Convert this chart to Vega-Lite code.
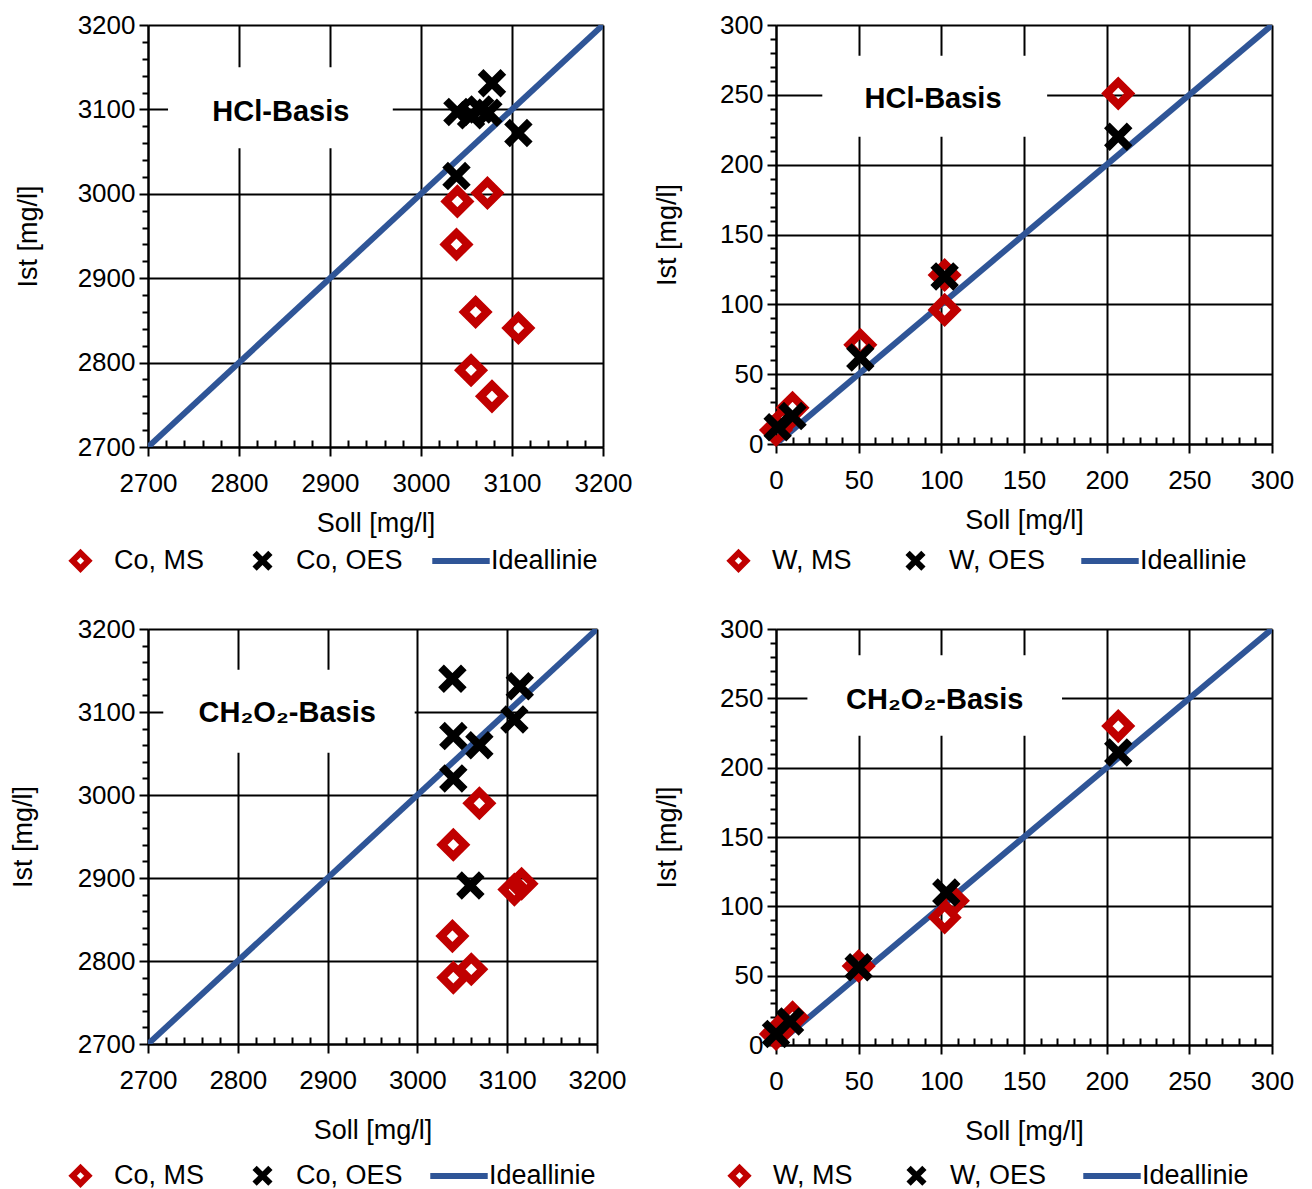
{
  "$schema": "https://vega.github.io/schema/vega-lite/v6.json",
  "padding": {"left": 9, "top": 12, "right": 0, "bottom": 0},
  "background": "white",
  "spacing": 35,
  "config": {
    "font": "Liberation Sans",
    "view": {"stroke": null},
    "axis": {"domainColor": "black", "domainWidth": 2, "tickColor": "black", "tickWidth": 2, "gridWidth": 2, "labelFontSize": 26, "labelColor": "black", "titleFontSize": 27, "titleFontWeight": "normal", "titleColor": "black", "labelFont": "Liberation Sans", "titleFont": "Liberation Sans", "grid": true, "labelOverlap": false, "tickCount": 100, "format": "d", "labelBound": false, "labelFlush": false},
    "legend": {"labelFontSize": 27, "labelFont": "Liberation Sans", "labelColor": "black", "symbolStrokeWidth": 6, "symbolSize": 250, "labelLimit": 300}
  },
  "datasets": {
    "co_hcl": [
      {"Soll": 3040, "Ist": 2991, "Serie": "Co, MS"},
      {"Soll": 3073, "Ist": 3001, "Serie": "Co, MS"},
      {"Soll": 3039, "Ist": 2940, "Serie": "Co, MS"},
      {"Soll": 3060, "Ist": 2860, "Serie": "Co, MS"},
      {"Soll": 3107, "Ist": 2841, "Serie": "Co, MS"},
      {"Soll": 3055, "Ist": 2791, "Serie": "Co, MS"},
      {"Soll": 3078, "Ist": 2760, "Serie": "Co, MS"},
      {"Soll": 3039, "Ist": 3021, "Serie": "Co, OES"},
      {"Soll": 3040, "Ist": 3097, "Serie": "Co, OES"},
      {"Soll": 3055, "Ist": 3093, "Serie": "Co, OES"},
      {"Soll": 3065, "Ist": 3100, "Serie": "Co, OES"},
      {"Soll": 3074, "Ist": 3096, "Serie": "Co, OES"},
      {"Soll": 3078, "Ist": 3131, "Serie": "Co, OES"},
      {"Soll": 3107, "Ist": 3072, "Serie": "Co, OES"}
    ],
    "w_hcl": [
      {"Soll": 0, "Ist": 10, "Serie": "W, MS"},
      {"Soll": 5, "Ist": 17, "Serie": "W, MS"},
      {"Soll": 10, "Ist": 26, "Serie": "W, MS"},
      {"Soll": 51, "Ist": 71, "Serie": "W, MS"},
      {"Soll": 102, "Ist": 121, "Serie": "W, MS"},
      {"Soll": 102, "Ist": 96, "Serie": "W, MS"},
      {"Soll": 207, "Ist": 251, "Serie": "W, MS"},
      {"Soll": 1, "Ist": 12, "Serie": "W, OES"},
      {"Soll": 10, "Ist": 20, "Serie": "W, OES"},
      {"Soll": 51, "Ist": 62, "Serie": "W, OES"},
      {"Soll": 102, "Ist": 120, "Serie": "W, OES"},
      {"Soll": 207, "Ist": 220, "Serie": "W, OES"}
    ],
    "co_ch": [
      {"Soll": 3069, "Ist": 2990, "Serie": "Co, MS"},
      {"Soll": 3040, "Ist": 2940, "Serie": "Co, MS"},
      {"Soll": 3108, "Ist": 2886, "Serie": "Co, MS"},
      {"Soll": 3116, "Ist": 2893, "Serie": "Co, MS"},
      {"Soll": 3039, "Ist": 2830, "Serie": "Co, MS"},
      {"Soll": 3040, "Ist": 2780, "Serie": "Co, MS"},
      {"Soll": 3060, "Ist": 2790, "Serie": "Co, MS"},
      {"Soll": 3039, "Ist": 3140, "Serie": "Co, OES"},
      {"Soll": 3114, "Ist": 3131, "Serie": "Co, OES"},
      {"Soll": 3108, "Ist": 3091, "Serie": "Co, OES"},
      {"Soll": 3040, "Ist": 3071, "Serie": "Co, OES"},
      {"Soll": 3069, "Ist": 3060, "Serie": "Co, OES"},
      {"Soll": 3040, "Ist": 3020, "Serie": "Co, OES"},
      {"Soll": 3059, "Ist": 2891, "Serie": "Co, OES"}
    ],
    "w_ch": [
      {"Soll": 0, "Ist": 8, "Serie": "W, MS"},
      {"Soll": 10, "Ist": 20, "Serie": "W, MS"},
      {"Soll": 50, "Ist": 57, "Serie": "W, MS"},
      {"Soll": 102, "Ist": 92, "Serie": "W, MS"},
      {"Soll": 107, "Ist": 104, "Serie": "W, MS"},
      {"Soll": 207, "Ist": 230, "Serie": "W, MS"},
      {"Soll": 0, "Ist": 8, "Serie": "W, OES"},
      {"Soll": 8.5, "Ist": 17, "Serie": "W, OES"},
      {"Soll": 50, "Ist": 56, "Serie": "W, OES"},
      {"Soll": 103, "Ist": 110, "Serie": "W, OES"},
      {"Soll": 207, "Ist": 211, "Serie": "W, OES"}
    ],
    "ideal_co": [{"Soll": 2700, "Ist": 2700, "Linie": "Ideallinie"}, {"Soll": 3200, "Ist": 3200, "Linie": "Ideallinie"}],
    "ideal_w": [{"Soll": 0, "Ist": 0, "Linie": "Ideallinie"}, {"Soll": 300, "Ist": 300, "Linie": "Ideallinie"}]
  },
  "resolve": {"scale": {"color": "independent", "shape": "independent", "stroke": "independent", "x": "independent", "y": "independent"}, "legend": {"color": "independent", "shape": "independent", "stroke": "independent"}},
  "vconcat": [
    {
      "spacing": 21,
      "resolve": {"scale": {"color": "independent", "shape": "independent", "stroke": "independent", "x": "independent", "y": "independent"}, "legend": {"color": "independent", "shape": "independent", "stroke": "independent"}},
      "hconcat": [
        {
          "width": 455, "height": 422,
          "layer": [
            {
              "data": {"values": [{}]},
              "mark": {"type": "rect", "fill": "white"},
              "encoding": {
                "x": {"datum": 2722, "type": "quantitative", "scale": {"domain": [2700, 3200], "nice": false, "zero": false}},
                "x2": {"datum": 2969},
                "y": {"datum": 3150, "type": "quantitative", "scale": {"domain": [2700, 3200], "nice": false, "zero": false}},
                "y2": {"datum": 3054}
              }
            },
            {
              "data": {"values": [{}]},
              "mark": {"type": "text", "text": "HCl-Basis", "font": "Liberation Sans", "fontSize": 29, "fontWeight": "bold", "color": "black", "align": "center", "baseline": "middle"},
              "encoding": {
                "x": {"datum": 2846, "type": "quantitative"},
                "y": {"datum": 3097, "type": "quantitative"}
              }
            },
            {
              "data": {"name": "ideal_co"},
              "mark": {"type": "line", "strokeWidth": 6, "clip": true},
              "encoding": {
                "x": {"field": "Soll", "type": "quantitative", "title": "Soll [mg/l]", "scale": {"domain": [2700, 3200], "nice": false, "zero": false},
                  "axis": {"values": [2700,2720,2740,2760,2780,2800,2820,2840,2860,2880,2900,2920,2940,2960,2980,3000,3020,3040,3060,3080,3100,3120,3140,3160,3180,3200], "labelExpr": "datum.value % 100 === 0 ? datum.label : ''", "gridColor": {"condition": {"test": "datum.value % 100 === 0", "value": "black"}, "value": "transparent"}, "tickSize": {"condition": {"test": "datum.value % 100 === 0", "value": 9}, "value": -7}, "labelPadding": 14, "titlePadding": 14}},
                "y": {"field": "Ist", "type": "quantitative", "title": "Ist [mg/l]", "scale": {"domain": [2700, 3200], "nice": false, "zero": false},
                  "axis": {"values": [2700,2720,2740,2760,2780,2800,2820,2840,2860,2880,2900,2920,2940,2960,2980,3000,3020,3040,3060,3080,3100,3120,3140,3160,3180,3200], "labelExpr": "datum.value % 100 === 0 ? datum.label : ''", "gridColor": {"condition": {"test": "datum.value % 100 === 0", "value": "black"}, "value": "transparent"}, "tickSize": {"condition": {"test": "datum.value % 100 === 0", "value": 9}, "value": 6}, "labelPadding": 4, "titlePadding": 35}},
                "stroke": {"field": "Linie", "type": "nominal", "scale": {"domain": ["Ideallinie"], "range": ["#2F5597"]},
                  "legend": {"orient": "none", "legendX": 281, "legendY": 504, "title": null, "symbolType": "stroke", "symbolSize": 3300, "symbolStrokeWidth": 6, "labelOffset": -2}}
              }
            },
            {
              "data": {"name": "co_hcl"},
              "mark": {"type": "point", "filled": false, "strokeWidth": 8, "size": 520, "opacity": 1},
              "encoding": {
                "x": {"field": "Soll", "type": "quantitative", "title": "Soll [mg/l]"},
                "y": {"field": "Ist", "type": "quantitative", "title": "Ist [mg/l]"},
                "color": {"field": "Serie", "type": "nominal", "scale": {"domain": ["Co, MS", "Co, OES"], "range": ["#C00000", "black"]},
                  "legend": {"orient": "none", "legendX": -81, "legendY": 522, "direction": "horizontal", "title": null, "columnPadding": 37, "labelOffset": 20}},
                "shape": {"field": "Serie", "type": "nominal", "scale": {"domain": ["Co, MS", "Co, OES"], "range": ["diamond", "M-1,-1L1,1M-1,1L1,-1"]},
                  "legend": {"orient": "none", "legendX": -81, "legendY": 522, "direction": "horizontal", "title": null, "columnPadding": 37, "labelOffset": 20}}
              }
            }
          ]
        },
        {
          "width": 496, "height": 419,
          "layer": [
            {
              "data": {"values": [{}]},
              "mark": {"type": "rect", "fill": "white"},
              "encoding": {
                "x": {"datum": 28, "type": "quantitative", "scale": {"domain": [0, 300], "nice": false}},
                "x2": {"datum": 164},
                "y": {"datum": 278, "type": "quantitative", "scale": {"domain": [0, 300], "nice": false}},
                "y2": {"datum": 220}
              }
            },
            {
              "data": {"values": [{}]},
              "mark": {"type": "text", "text": "HCl-Basis", "font": "Liberation Sans", "fontSize": 29, "fontWeight": "bold", "color": "black", "align": "center", "baseline": "middle"},
              "encoding": {
                "x": {"datum": 95, "type": "quantitative"},
                "y": {"datum": 247, "type": "quantitative"}
              }
            },
            {
              "data": {"name": "ideal_w"},
              "mark": {"type": "line", "strokeWidth": 6, "clip": true},
              "encoding": {
                "x": {"field": "Soll", "type": "quantitative", "title": "Soll [mg/l]", "scale": {"domain": [0, 300], "nice": false},
                  "axis": {"values": [0,10,20,30,40,50,60,70,80,90,100,110,120,130,140,150,160,170,180,190,200,210,220,230,240,250,260,270,280,290,300], "labelExpr": "datum.value % 50 === 0 ? datum.label : ''", "gridColor": {"condition": {"test": "datum.value % 50 === 0", "value": "black"}, "value": "transparent"}, "tickSize": {"condition": {"test": "datum.value % 50 === 0", "value": 9}, "value": -7}, "labelPadding": 14, "titlePadding": 14}},
                "y": {"field": "Ist", "type": "quantitative", "title": "Ist [mg/l]", "scale": {"domain": [0, 300], "nice": false},
                  "axis": {"values": [0,10,20,30,40,50,60,70,80,90,100,110,120,130,140,150,160,170,180,190,200,210,220,230,240,250,260,270,280,290,300], "labelExpr": "datum.value % 50 === 0 ? datum.label : ''", "gridColor": {"condition": {"test": "datum.value % 50 === 0", "value": "black"}, "value": "transparent"}, "tickSize": {"condition": {"test": "datum.value % 50 === 0", "value": 9}, "value": 6}, "labelPadding": 4, "titlePadding": 38}},
                "stroke": {"field": "Linie", "type": "nominal", "scale": {"domain": ["Ideallinie"], "range": ["#2F5597"]},
                  "legend": {"orient": "none", "legendX": 302, "legendY": 504, "title": null, "symbolType": "stroke", "symbolSize": 3300, "symbolStrokeWidth": 6, "labelOffset": -2}}
              }
            },
            {
              "data": {"name": "w_hcl"},
              "mark": {"type": "point", "filled": false, "strokeWidth": 8, "size": 520, "opacity": 1},
              "encoding": {
                "x": {"field": "Soll", "type": "quantitative", "title": "Soll [mg/l]"},
                "y": {"field": "Ist", "type": "quantitative", "title": "Ist [mg/l]"},
                "color": {"field": "Serie", "type": "nominal", "scale": {"domain": ["W, MS", "W, OES"], "range": ["#C00000", "black"]},
                  "legend": {"orient": "none", "legendX": -51, "legendY": 522, "direction": "horizontal", "title": null, "columnPadding": 43, "labelOffset": 20}},
                "shape": {"field": "Serie", "type": "nominal", "scale": {"domain": ["W, MS", "W, OES"], "range": ["diamond", "M-1,-1L1,1M-1,1L1,-1"]},
                  "legend": {"orient": "none", "legendX": -51, "legendY": 522, "direction": "horizontal", "title": null, "columnPadding": 43, "labelOffset": 20}}
              }
            }
          ]
        }
      ]
    },
    {
      "spacing": 27,
      "resolve": {"scale": {"color": "independent", "shape": "independent", "stroke": "independent", "x": "independent", "y": "independent"}, "legend": {"color": "independent", "shape": "independent", "stroke": "independent"}},
      "hconcat": [
        {
          "width": 449, "height": 415,
          "layer": [
            {
              "data": {"values": [{}]},
              "mark": {"type": "rect", "fill": "white"},
              "encoding": {
                "x": {"datum": 2717, "type": "quantitative", "scale": {"domain": [2700, 3200], "nice": false, "zero": false}},
                "x2": {"datum": 2997},
                "y": {"datum": 3151, "type": "quantitative", "scale": {"domain": [2700, 3200], "nice": false, "zero": false}},
                "y2": {"datum": 3051}
              }
            },
            {
              "data": {"values": [{}]},
              "mark": {"type": "text", "text": "CH₂O₂-Basis", "font": "Liberation Sans", "fontSize": 29, "fontWeight": "bold", "color": "black", "align": "center", "baseline": "middle"},
              "encoding": {
                "x": {"datum": 2855, "type": "quantitative"},
                "y": {"datum": 3099, "type": "quantitative"}
              }
            },
            {
              "data": {"name": "ideal_co"},
              "mark": {"type": "line", "strokeWidth": 6, "clip": true},
              "encoding": {
                "x": {"field": "Soll", "type": "quantitative", "title": "Soll [mg/l]", "scale": {"domain": [2700, 3200], "nice": false, "zero": false},
                  "axis": {"values": [2700,2720,2740,2760,2780,2800,2820,2840,2860,2880,2900,2920,2940,2960,2980,3000,3020,3040,3060,3080,3100,3120,3140,3160,3180,3200], "labelExpr": "datum.value % 100 === 0 ? datum.label : ''", "gridColor": {"condition": {"test": "datum.value % 100 === 0", "value": "black"}, "value": "transparent"}, "tickSize": {"condition": {"test": "datum.value % 100 === 0", "value": 9}, "value": -7}, "labelPadding": 14, "titlePadding": 24}},
                "y": {"field": "Ist", "type": "quantitative", "title": "Ist [mg/l]", "scale": {"domain": [2700, 3200], "nice": false, "zero": false},
                  "axis": {"values": [2700,2720,2740,2760,2780,2800,2820,2840,2860,2880,2900,2920,2940,2960,2980,3000,3020,3040,3060,3080,3100,3120,3140,3160,3180,3200], "labelExpr": "datum.value % 100 === 0 ? datum.label : ''", "gridColor": {"condition": {"test": "datum.value % 100 === 0", "value": "black"}, "value": "transparent"}, "tickSize": {"condition": {"test": "datum.value % 100 === 0", "value": 9}, "value": 6}, "labelPadding": 4, "titlePadding": 40}},
                "stroke": {"field": "Linie", "type": "nominal", "scale": {"domain": ["Ideallinie"], "range": ["#2F5597"]},
                  "legend": {"orient": "none", "legendX": 279, "legendY": 515, "title": null, "symbolType": "stroke", "symbolSize": 3300, "symbolStrokeWidth": 6, "labelOffset": -2}}
              }
            },
            {
              "data": {"name": "co_ch"},
              "mark": {"type": "point", "filled": false, "strokeWidth": 8, "size": 520, "opacity": 1},
              "encoding": {
                "x": {"field": "Soll", "type": "quantitative", "title": "Soll [mg/l]"},
                "y": {"field": "Ist", "type": "quantitative", "title": "Ist [mg/l]"},
                "color": {"field": "Serie", "type": "nominal", "scale": {"domain": ["Co, MS", "Co, OES"], "range": ["#C00000", "black"]},
                  "legend": {"orient": "none", "legendX": -81, "legendY": 533, "direction": "horizontal", "title": null, "columnPadding": 37, "labelOffset": 20}},
                "shape": {"field": "Serie", "type": "nominal", "scale": {"domain": ["Co, MS", "Co, OES"], "range": ["diamond", "M-1,-1L1,1M-1,1L1,-1"]},
                  "legend": {"orient": "none", "legendX": -81, "legendY": 533, "direction": "horizontal", "title": null, "columnPadding": 37, "labelOffset": 20}}
              }
            }
          ]
        },
        {
          "width": 496, "height": 416,
          "layer": [
            {
              "data": {"values": [{}]},
              "mark": {"type": "rect", "fill": "white"},
              "encoding": {
                "x": {"datum": 19, "type": "quantitative", "scale": {"domain": [0, 300], "nice": false}},
                "x2": {"datum": 173},
                "y": {"datum": 281, "type": "quantitative", "scale": {"domain": [0, 300], "nice": false}},
                "y2": {"datum": 223}
              }
            },
            {
              "data": {"values": [{}]},
              "mark": {"type": "text", "text": "CH₂O₂-Basis", "font": "Liberation Sans", "fontSize": 29, "fontWeight": "bold", "color": "black", "align": "center", "baseline": "middle"},
              "encoding": {
                "x": {"datum": 96, "type": "quantitative"},
                "y": {"datum": 249, "type": "quantitative"}
              }
            },
            {
              "data": {"name": "ideal_w"},
              "mark": {"type": "line", "strokeWidth": 6, "clip": true},
              "encoding": {
                "x": {"field": "Soll", "type": "quantitative", "title": "Soll [mg/l]", "scale": {"domain": [0, 300], "nice": false},
                  "axis": {"values": [0,10,20,30,40,50,60,70,80,90,100,110,120,130,140,150,160,170,180,190,200,210,220,230,240,250,260,270,280,290,300], "labelExpr": "datum.value % 50 === 0 ? datum.label : ''", "gridColor": {"condition": {"test": "datum.value % 50 === 0", "value": "black"}, "value": "transparent"}, "tickSize": {"condition": {"test": "datum.value % 50 === 0", "value": 9}, "value": -7}, "labelPadding": 14, "titlePadding": 24}},
                "y": {"field": "Ist", "type": "quantitative", "title": "Ist [mg/l]", "scale": {"domain": [0, 300], "nice": false},
                  "axis": {"values": [0,10,20,30,40,50,60,70,80,90,100,110,120,130,140,150,160,170,180,190,200,210,220,230,240,250,260,270,280,290,300], "labelExpr": "datum.value % 50 === 0 ? datum.label : ''", "gridColor": {"condition": {"test": "datum.value % 50 === 0", "value": "black"}, "value": "transparent"}, "tickSize": {"condition": {"test": "datum.value % 50 === 0", "value": 9}, "value": 6}, "labelPadding": 4, "titlePadding": 38}},
                "stroke": {"field": "Linie", "type": "nominal", "scale": {"domain": ["Ideallinie"], "range": ["#2F5597"]},
                  "legend": {"orient": "none", "legendX": 304, "legendY": 515, "title": null, "symbolType": "stroke", "symbolSize": 3300, "symbolStrokeWidth": 6, "labelOffset": -2}}
              }
            },
            {
              "data": {"name": "w_ch"},
              "mark": {"type": "point", "filled": false, "strokeWidth": 8, "size": 520, "opacity": 1},
              "encoding": {
                "x": {"field": "Soll", "type": "quantitative", "title": "Soll [mg/l]"},
                "y": {"field": "Ist", "type": "quantitative", "title": "Ist [mg/l]"},
                "color": {"field": "Serie", "type": "nominal", "scale": {"domain": ["W, MS", "W, OES"], "range": ["#C00000", "black"]},
                  "legend": {"orient": "none", "legendX": -50, "legendY": 533, "direction": "horizontal", "title": null, "columnPadding": 43, "labelOffset": 20}},
                "shape": {"field": "Serie", "type": "nominal", "scale": {"domain": ["W, MS", "W, OES"], "range": ["diamond", "M-1,-1L1,1M-1,1L1,-1"]},
                  "legend": {"orient": "none", "legendX": -50, "legendY": 533, "direction": "horizontal", "title": null, "columnPadding": 43, "labelOffset": 20}}
              }
            }
          ]
        }
      ]
    }
  ]
}
